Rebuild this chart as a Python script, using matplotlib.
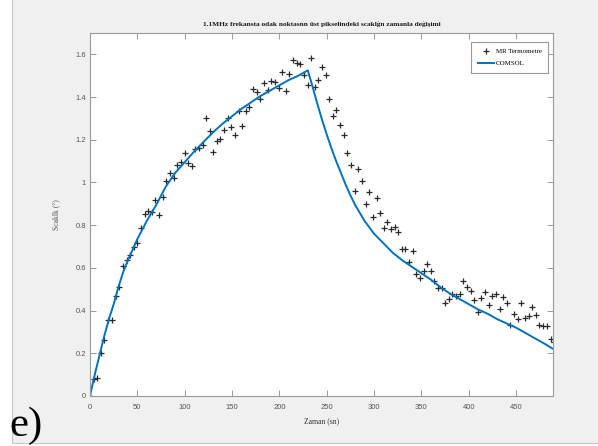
import numpy as np
import matplotlib
matplotlib.use("Agg")
import matplotlib.pyplot as plt
from matplotlib.patches import Rectangle
from matplotlib.ticker import FuncFormatter

# MR termometre olcumleri (zaman sn, sicaklik artisi)
t_mr = [0, 4.0, 7.5, 11.4, 14.9, 19.1, 23.0, 27.0, 30.4, 34.7,
        38.6, 42.0, 46.3, 49.8, 53.7, 57.9, 61.4, 65.0, 68.8, 72.7,
        76.6, 80.4, 84.4, 88.3, 92.1, 96.0, 99.9, 103.4, 107.3, 111.1,
        115.3, 118.9, 122.4, 126.3, 130.1, 134.0, 137.5, 141.4, 145.3, 149.2,
        153.1, 157.0, 160.8, 164.4, 168.2, 172.4, 176.0, 179.8, 183.7, 187.6,
        191.4, 195.3, 199.3, 202.7, 206.7, 210.5, 214.4, 218.3, 222.1, 226.0,
        229.9, 233.7, 237.6, 240.8, 245.0, 248.9, 252.7, 256.3, 260.1, 264.1,
        267.9, 271.8, 275.7, 279.6, 283.4, 287.3, 291.2, 295.0, 299.0, 302.8,
        306.3, 310.2, 314.0, 318.0, 321.9, 325.7, 329.6, 333.1, 337.0, 340.9,
        344.7, 348.6, 352.5, 356.0, 359.9, 363.7, 367.7, 371.6, 375.4, 379.0,
        382.8, 386.7, 390.6, 394.4, 398.3, 402.2, 406.0, 409.9, 413.4, 417.3,
        421.2, 425.0, 429.0, 432.9, 436.7, 440.6, 444.1, 448.0, 451.9, 455.7,
        459.6, 463.5, 467.3, 471.2, 474.7, 478.6, 482.6, 486.4, 490.0]
T_mr = [0, 0.078, 0.086, 0.20, 0.26, 0.355, 0.355, 0.47, 0.51, 0.61,
        0.636, 0.66, 0.70, 0.717, 0.785, 0.852, 0.866, 0.862, 0.92, 0.848,
        0.93, 1.007, 1.045, 1.02, 1.082, 1.095, 1.14, 1.089, 1.079, 1.159,
        1.162, 1.174, 1.304, 1.243, 1.143, 1.193, 1.205, 1.248, 1.302, 1.258,
        1.224, 1.335, 1.266, 1.333, 1.354, 1.438, 1.422, 1.393, 1.466, 1.432,
        1.477, 1.469, 1.444, 1.519, 1.430, 1.51, 1.572, 1.561, 1.553, 1.505,
        1.458, 1.583, 1.447, 1.478, 1.541, 1.502, 1.393, 1.31, 1.338, 1.268,
        1.224, 1.138, 1.081, 0.961, 1.062, 1.007, 0.90, 0.954, 0.836, 0.925,
        0.858, 0.789, 0.813, 0.78, 0.792, 0.769, 0.689, 0.689, 0.628, 0.68,
        0.571, 0.551, 0.586, 0.616, 0.585, 0.54, 0.504, 0.507, 0.437, 0.455,
        0.476, 0.468, 0.476, 0.54, 0.509, 0.491, 0.449, 0.394, 0.457, 0.488,
        0.426, 0.469, 0.476, 0.407, 0.462, 0.434, 0.332, 0.384, 0.359, 0.434,
        0.363, 0.374, 0.415, 0.379, 0.332, 0.329, 0.329, 0.265, 0.254]

# COMSOL simulasyon egrisi
t_cs = [0, 5, 10, 15, 20, 25, 30, 35, 40, 45, 50, 60, 70, 80, 90, 100,
        110, 120, 130, 140, 150, 160, 170, 180, 190, 200, 210, 220, 230,
        235, 240, 245, 250, 255, 260, 265, 270, 275, 280, 290, 300, 310,
        320, 330, 340, 350, 360, 370, 380, 390, 400, 410, 420, 430, 440,
        450, 460, 470, 480, 490]
T_cs = [0, 0.10, 0.19, 0.28, 0.36, 0.43, 0.51, 0.58, 0.635, 0.685, 0.735,
        0.82, 0.895, 0.98, 1.045, 1.095, 1.145, 1.19, 1.235, 1.275, 1.31,
        1.345, 1.375, 1.405, 1.43, 1.455, 1.48, 1.50, 1.525,
        1.45, 1.37, 1.295, 1.225, 1.16, 1.10, 1.045, 0.99, 0.94, 0.895,
        0.82, 0.76, 0.715, 0.67, 0.635, 0.605, 0.575, 0.545, 0.51, 0.48,
        0.455, 0.43, 0.405, 0.385, 0.36, 0.34, 0.32, 0.295, 0.27, 0.245, 0.218]

xticks = [0, 50, 100, 150, 200, 250, 300, 350, 400, 450]
yticks = [0, 0.2, 0.4, 0.6, 0.8, 1, 1.2, 1.4, 1.6]

serif = ["Liberation Serif", "DejaVu Serif"]
sans = ["Liberation Sans", "DejaVu Sans"]

fig = plt.figure(figsize=(5.98, 4.46), dpi=100, facecolor="white")
# gri pencere zemini
fig.patches.append(Rectangle((12/598, 3/446), 1, 1, transform=fig.transFigure,
                             facecolor="#f0f0f0", edgecolor="#c8c8c8", lw=0.8, zorder=-10))

ax = fig.add_axes([90/598, 50/446, 463/598, 363/446])
ax.set_facecolor("white")

ax.plot(t_mr, T_mr, linestyle="none", marker="+", markersize=4.2, mew=0.9,
        color="#2b2b2b", label="MR Termometre")
ax.plot(t_cs, T_cs, color="#0072BD", lw=1.4, label="COMSOL")

ax.set_xlim(0, 489)
ax.set_ylim(0, 1.7)
ax.set_xticks(xticks)
ax.set_yticks(yticks)
ax.yaxis.set_major_formatter(FuncFormatter(lambda v, p: "%g" % v))
ax.tick_params(direction="in", top=True, right=True, length=4, width=0.6,
               color="#8a8a8a", labelcolor="#555555", labelsize=5.5)
ax.tick_params(axis="x", pad=6)
ax.tick_params(axis="y", pad=3)
for lab in ax.get_xticklabels() + ax.get_yticklabels():
    lab.set_family(sans)
for s in ax.spines.values():
    s.set_color("#9a9a9a")
    s.set_linewidth(0.8)

ax.set_title("1.1MHz frekansta odak noktasnn üst pikselindeki scaklğn zamanla değişimi",
             family=serif, fontweight="bold", fontsize=5.3, color="#1a1a1a", pad=5)
ax.set_xlabel("Zaman (sn)", family=serif, fontsize=5.5, color="#333333", labelpad=4)
ax.set_ylabel("Scaklk (°)", family=serif, fontsize=5.5, color="#555555", labelpad=11)

leg = ax.legend(loc="upper right", bbox_to_anchor=(0.989, 0.975), borderaxespad=0,
                fancybox=False, edgecolor="#9a9a9a", framealpha=1,
                prop={"family": serif, "size": 5}, handlelength=2.4,
                borderpad=0.9, labelspacing=0.9, handletextpad=0.2)
leg.get_frame().set_linewidth(0.8)

fig.text(9/598, 10/446, "e)", family=serif, fontsize=31, color="black")

fig.savefig("out.png", dpi=100, facecolor=fig.get_facecolor())
